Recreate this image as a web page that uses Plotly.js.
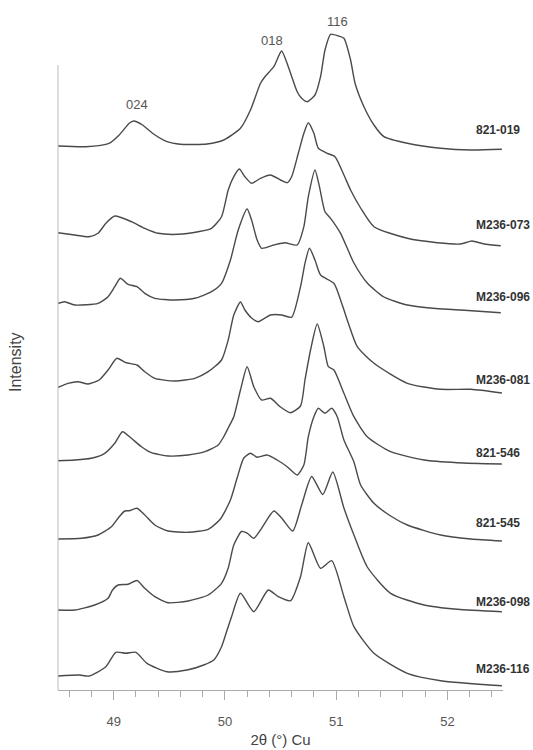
<!DOCTYPE html>
<html>
<head>
<meta charset="utf-8">
<script src="https://cdn.plot.ly/plotly-3.0.1.min.js"></script>
<style>
  html, body { margin: 0; padding: 0; background: #fff; }
  #chart { width: 533px; height: 750px; }
</style>
</head>
<body>
<div id="chart"></div>
<script>
// Stacked XRD patterns, 2θ (Cu Kα) 48.5–52.5°, intensities in arbitrary units.
const samples = ['821-019', 'M236-073', 'M236-096', 'M236-081', '821-546', '821-545', 'M236-098', 'M236-116'];
// vertical stacking offset of each pattern
const offsets = [540, 444, 377, 297, 226, 149, 78, 4];

const tt_821_019 = [48.50,48.75,48.96,49.05,49.14,49.18,49.26,49.35,49.48,49.60,49.84,49.99,50.14,50.23,50.32,50.36,50.44,50.51,50.57,50.65,50.69,50.74,50.81,50.86,50.90,50.95,51.02,51.07,51.13,51.17,51.25,51.34,51.43,51.64,51.94,52.21,52.49];
const int_821_019 = [4,3.3,6.7,15,26.7,29,25,16.7,8.3,5.7,6,10,21.7,40,66.7,73.3,83.3,99,83.3,58.3,51.7,48.3,55,73.3,100,115.7,114,111.7,90,66.7,43.3,25,13.3,6.7,1.7,0,0.7];

const tt_M236_073 = [48.50,48.65,48.78,48.86,48.93,49.01,49.16,49.28,49.40,49.58,49.76,49.88,49.97,50.03,50.08,50.13,50.18,50.24,50.32,50.41,50.50,50.56,50.60,50.66,50.71,50.75,50.80,50.84,50.92,50.99,51.07,51.13,51.22,51.34,51.64,51.91,52.12,52.22,52.33,52.48];
const int_M236_073 = [13.3,11,9.3,12.7,22.7,30,24.3,17.7,12.7,11.7,14.3,17.7,29.3,56,69.3,77,69.3,62.7,67.7,71,66,63.3,69.3,92.7,112.7,123.3,112.7,97.7,92.7,89.3,71,56,38,19.3,7.7,3.3,2,5,2,0.3];

const tt_M236_096 = [48.50,48.56,48.65,48.86,48.95,49.01,49.06,49.13,49.21,49.28,49.37,49.55,49.73,49.88,49.97,50.05,50.12,50.20,50.24,50.29,50.33,50.44,50.54,50.65,50.71,50.75,50.81,50.85,50.90,50.95,51.04,51.16,51.28,51.43,51.64,51.82,52.12,52.48];
const int_M236_096 = [9.7,11.3,8,9.7,16.3,26.3,34.7,28.7,26.3,19.7,14.7,13,14.7,21.3,29.7,53,83,104,93,73,64.7,68,70.3,68,86.3,116.3,143,126.3,101.3,94.7,79.7,50,30,16,8,5.3,3,0.3];

const tt_M236_081 = [48.50,48.59,48.68,48.77,48.87,48.95,49.03,49.11,49.21,49.28,49.37,49.55,49.73,49.85,49.97,50.03,50.08,50.14,50.18,50.24,50.30,50.41,50.51,50.60,50.68,50.72,50.76,50.81,50.86,50.98,51.05,51.11,51.19,51.34,51.64,51.94,52.21,52.49];
const int_M236_081 = [5.7,9.7,11.3,9,13,23,34.7,30.3,28,21.3,14.7,12,14.7,21.3,33,53,78,91,83,75,71.3,78,78,75.7,106.3,129.7,144.7,133,118,109.7,89.7,69.7,46.3,29.7,9.7,3.7,3.7,0];

const tt_821_546 = [48.50,48.65,48.80,48.92,49.01,49.08,49.16,49.25,49.34,49.49,49.67,49.82,49.94,49.99,50.03,50.08,50.14,50.20,50.26,50.33,50.41,50.50,50.59,50.68,50.72,50.77,50.83,50.89,50.93,50.98,51.07,51.16,51.28,51.49,51.79,52.09,52.49];
const int_821_546 = [3.3,4,5.7,10.7,20.7,32.3,25.7,17.3,11.3,8,9,12.3,19,27.3,36,47.3,74,97.3,77.3,64,65.7,57,51.3,58,84,114,140,117.3,97.3,94,70.7,47.3,27.3,12.3,4,1.3,0];

const tt_821_545 = [48.50,48.71,48.86,48.98,49.05,49.10,49.14,49.21,49.28,49.37,49.49,49.67,49.85,49.96,50.05,50.11,50.17,50.23,50.29,50.38,50.47,50.56,50.65,50.71,50.75,50.80,50.84,50.90,50.96,51.01,51.07,51.16,51.22,51.34,51.49,51.64,51.94,52.21,52.49];
const int_821_545 = [2,2.7,6,14.3,24.3,30,30.3,32.7,26,16,10,8.7,11.7,22,41,63,83,87.7,83.7,86,81,74.3,66,76,104.3,124.3,132.7,127.7,132.7,124.3,101,79,56,37.7,25,16,6,2,0];

const tt_M236_098 = [48.50,48.65,48.83,48.95,48.99,49.04,49.13,49.21,49.28,49.37,49.49,49.67,49.85,49.97,50.03,50.08,50.15,50.20,50.26,50.33,50.44,50.51,50.61,50.69,50.78,50.88,50.97,51.07,51.16,51.28,51.49,51.79,52.09,52.49];
const int_M236_098 = [2,2,7,13.7,22,27,27.7,31.5,23.7,15.3,9.3,11,17,28.7,44,67,80.5,79,73.7,83.7,101,94,81,107,135.5,117.5,140,104,77,45,18.7,7,2.7,0.3];

const tt_M236_116 = [48.50,48.69,48.78,48.93,49.02,49.11,49.20,49.30,49.48,49.66,49.81,49.90,49.97,50.02,50.06,50.14,50.26,50.39,50.48,50.59,50.68,50.75,50.86,50.96,51.07,51.16,51.34,51.64,51.94,52.49];
const int_M236_116 = [10,11,10,19.3,33.7,32.7,33.7,22.7,14.3,16,21,26,39.3,56,69.3,92.7,74.3,96,89.3,85.3,109.3,143.3,117.7,125.3,89.3,59.3,32.7,12.7,5.3,0.3];

// reflection indices and their 2θ / stacked-intensity positions
const hklLabels = ['024', '018', '116'];
const hklTheta = [49.21, 50.42, 51.015];
const hklInt = [586, 650, 669];

const thetas = [tt_821_019, tt_M236_073, tt_M236_096, tt_M236_081, tt_821_546, tt_821_545, tt_M236_098, tt_M236_116];
const intens = [int_821_019, int_M236_073, int_M236_096, int_M236_081, int_821_546, int_821_545, int_M236_098, int_M236_116];

const traces = samples.map((name, i) => ({
  type: 'scatter',
  mode: 'lines',
  name: name,
  x: thetas[i],
  y: intens[i].map(v => v + offsets[i]),
  line: { color: '#4a4a4a', width: 1.4, shape: 'spline', smoothing: 0.6 },
  hoverinfo: 'x+name',
  showlegend: false
}));

// sample names sit just above the right end of each pattern
const nameLift = [20, 21, 16, 13, 11, 18, 10, 17];
const annotations = samples.map((name, i) => ({
  text: '<b>' + name + '</b>',
  xref: 'paper', x: 0.935, xanchor: 'left',
  yref: 'y', y: offsets[i] + nameLift[i], yanchor: 'middle',
  showarrow: false,
  font: { family: 'Liberation Sans, Arial, sans-serif', size: 12, color: '#333' }
}));

hklLabels.forEach((t, i) => annotations.push({
  text: t, x: hklTheta[i], y: hklInt[i], xref: 'x', yref: 'y',
  showarrow: false, xanchor: 'center', yanchor: 'middle',
  font: { family: 'Liberation Sans, Arial, sans-serif', size: 13, color: '#555' }
}));

annotations.push({
  text: 'Intensity', textangle: -90,
  xref: 'paper', x: 0, xanchor: 'center', xshift: -43,
  yref: 'y', y: 328, yanchor: 'middle',
  showarrow: false,
  font: { family: 'Liberation Sans, Arial, sans-serif', size: 16, color: '#444' }
});

const layout = {
  width: 533, height: 750,
  margin: { l: 58, r: 30, t: 15, b: 60 },
  paper_bgcolor: '#fff', plot_bgcolor: '#fff',
  font: { family: 'Liberation Sans, Arial, sans-serif', color: '#555' },
  xaxis: {
    range: [48.5, 52.5],
    tick0: 49, dtick: 1,
    ticks: 'outside', ticklen: 9, tickwidth: 1, tickcolor: '#aaa',
    minor: { ticks: 'outside', tick0: 49, dtick: 0.2, ticklen: 6, tickwidth: 1, tickcolor: '#aaa' },
    showline: true, linecolor: '#aaa', linewidth: 1,
    showgrid: false, zeroline: false,
    ticklabelstandoff: 10,
    tickfont: { size: 13, color: '#555' },
    title: { text: '2θ (°) Cu', font: { size: 15, color: '#444' }, standoff: 6 }
  },
  yaxis: {
    range: [0, 675],
    showline: false, showgrid: false, zeroline: false,
    showticklabels: false, ticks: ''
  },
  shapes: [{
    type: 'line', xref: 'paper', x0: 0, x1: 0, yref: 'y', y0: 0, y1: 625,
    line: { color: '#bbb', width: 1 }
  }],
  annotations: annotations
};

Plotly.newPlot('chart', traces, layout, { staticPlot: true, displayModeBar: false });
</script>
</body>
</html>
